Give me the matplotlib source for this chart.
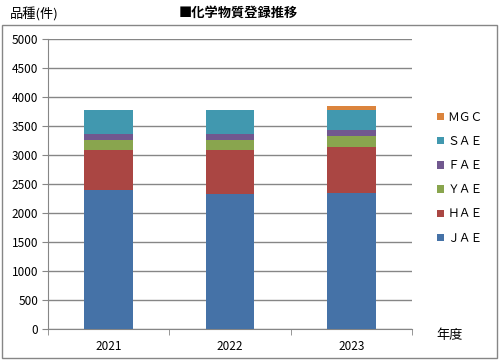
import matplotlib
matplotlib.use("Agg")
import matplotlib.pyplot as plt
import numpy as np
from matplotlib.patches import Rectangle

plt.rcParams['font.family'] = ['Noto Sans CJK JP', 'DejaVu Sans']

years = ['2021', '2022', '2023']
series_names = ['ＪＡＥ', 'ＨＡＥ', 'ＹＡＥ', 'ＦＡＥ', 'ＳＡＥ', 'ＭＧＣ']
jae = [2390, 2320, 2335]
hae = [690, 760, 795]
yae = [170, 170, 190]
fae = [110, 110, 105]
sae = [410, 410, 355]
mgc = [0, 0, 65]
colors = ['#4572a7', '#aa4643', '#89a54e', '#71588f', '#4198af', '#db843d']

fig = plt.figure(figsize=(5.01, 3.64), dpi=100)
# outer chart frame
fig.patches.append(Rectangle((2 / 501, 1 - 358 / 364), 495 / 501, 333 / 364,
                             transform=fig.transFigure, fill=False,
                             edgecolor='#868686', linewidth=1.0))

ax = fig.add_axes([48 / 501, 1 - 328.5 / 364, 364 / 501, 289.5 / 364])

x = np.arange(len(years))
bottom = np.zeros(len(years))
handles = []
for vals, name, c in zip([jae, hae, yae, fae, sae, mgc], series_names, colors):
    b = ax.bar(x, vals, width=0.4, bottom=bottom, color=c, label=name, zorder=3)
    handles.append(b)
    bottom += np.array(vals)

ax.set_xlim(-0.5, 2.5)
ax.set_ylim(0, 5000)
ax.set_yticks(np.arange(0, 5001, 500))
ax.yaxis.grid(True, color='#868686', linewidth=1.0, zorder=0)
ax.set_xticks(x)
ax.set_xticklabels(years)
ax.set_xticks([-0.5, 0.5, 1.5, 2.5], minor=True)
ax.tick_params(axis='x', which='major', length=0, pad=8, labelsize=8.5)
ax.tick_params(axis='x', which='minor', length=4, color='#868686')
ax.tick_params(axis='y', length=4, color='#868686', labelsize=8.5, pad=3)
for s in ['top', 'right']:
    ax.spines[s].set_visible(False)
for s in ['left', 'bottom']:
    ax.spines[s].set_color('#868686')

leg = fig.legend(handles[::-1], series_names[::-1], loc='upper left',
                 bbox_to_anchor=(426 / 501, 1 - 100 / 364), frameon=False,
                 handlelength=0.6, handleheight=0.6, handletextpad=0.3,
                 labelspacing=0.95, fontsize=8.5)

fig.text(10 / 501, 1 - 14 / 364, '品種(件)', fontsize=9.5, va='center', ha='left')
fig.text(238 / 501, 1 - 13 / 364, '■化学物質登録推移', fontsize=9.5,
         va='center', ha='center', fontweight='bold')
fig.text(450 / 501, 1 - 336 / 364, '年度', fontsize=9.5, va='center', ha='center')

fig.savefig('out.png', dpi=100)
